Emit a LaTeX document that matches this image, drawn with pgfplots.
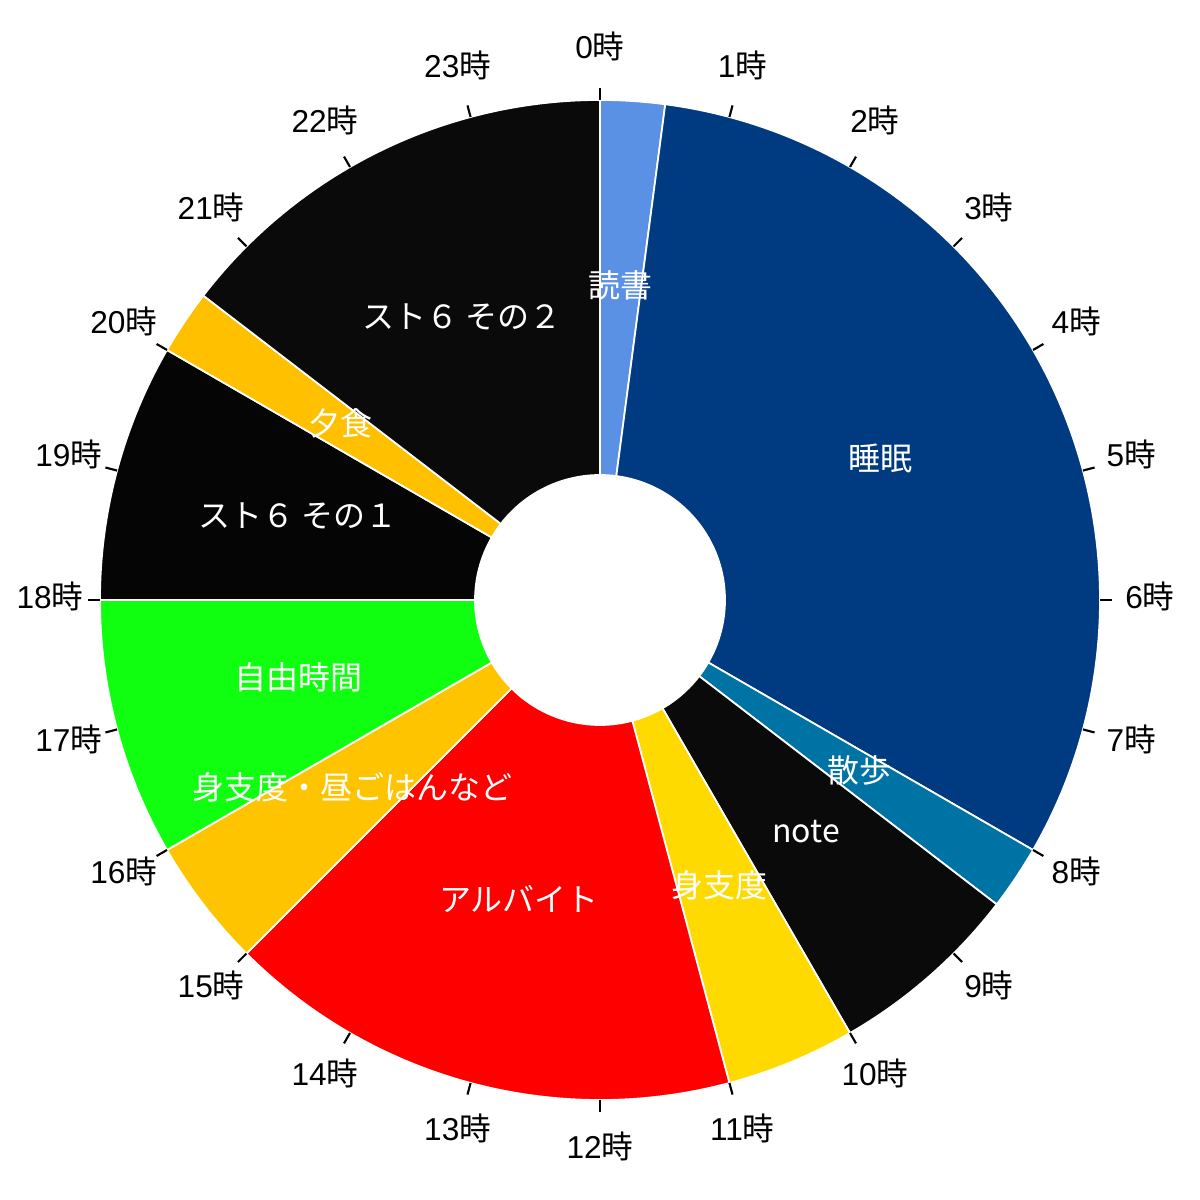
\documentclass[border=0pt]{standalone}
\usepackage{pgfplots}
\pgfplotsset{compat=1.18}
\usepackage{pgfplotstable}
\usepackage{fontspec}
\setmainfont{Liberation Sans}
\newfontfamily\cjk{Noto Sans CJK JP}

\definecolor{cread}{RGB}{91,145,228}
\definecolor{csleep}{RGB}{0,58,128}
\definecolor{cwalk}{RGB}{0,115,165}
\definecolor{cnote}{RGB}{10,10,10}
\definecolor{cprep}{RGB}{255,218,0}
\definecolor{cjob}{RGB}{255,0,0}
\definecolor{clunch}{RGB}{255,196,0}
\definecolor{cfree}{RGB}{16,255,16}
\definecolor{csfa}{RGB}{5,5,5}
\definecolor{cdin}{RGB}{255,192,0}
\definecolor{csfb}{RGB}{10,10,10}

% start/end in hours, 0 at top, clockwise
\pgfplotstableread[col sep=comma]{
start,end,col,label
0,0.5,cread,読書
0.5,8,csleep,睡眠
8,8.5,cwalk,散歩
8.5,10,cnote,note
10,11,cprep,身支度
11,15,cjob,アルバイト
15,16,clunch,身支度・昼ごはんなど
16,18,cfree,自由時間
18,20,csfa,スト６ その１
20,20.5,cdin,夕食
20.5,24,csfb,スト６ その２
}\schedule

\begin{document}
\begin{tikzpicture}
\begin{axis}[
  scale only axis,
  width=12cm, height=12cm,
  xmin=-600, xmax=600,
  ymin=-600, ymax=600,
  hide axis,
  clip=false,
]
\path (axis cs:-600,-600) rectangle (axis cs:600,600);

\pgfplotstablegetrowsof{\schedule}
\pgfmathtruncatemacro\nrows{\pgfplotsretval-1}
\pgfplotsinvokeforeach{0,...,\nrows}{
  \pgfplotstablegetelem{#1}{start}\of\schedule \let\hs\pgfplotsretval
  \pgfplotstablegetelem{#1}{end}\of\schedule \let\he\pgfplotsretval
  \pgfplotstablegetelem{#1}{col}\of\schedule \let\hc\pgfplotsretval
  \edef\wedgecmd{\noexpand\fill[\hc, draw=white, line width=0.5pt]
    (axis cs:{125*cos(90-15*\hs)},{125*sin(90-15*\hs)})
    -- (axis cs:{500*cos(90-15*\hs)},{500*sin(90-15*\hs)})
    arc[start angle={90-15*\hs}, end angle={90-15*\he}, radius=5cm]
    -- (axis cs:{125*cos(90-15*\he)},{125*sin(90-15*\he)})
    arc[start angle={90-15*\he}, end angle={90-15*\hs}, radius=1.25cm]
    -- cycle;}
  \wedgecmd
}

\addplot[draw=none, mark=none,
  nodes near coords,
  point meta=explicit symbolic,
  nodes near coords align={anchor=center},
  every node near coord/.append style={font=\cjk\fontsize{9.1}{10}\selectfont, text=white, inner sep=0pt, yshift=0.9pt},
] table[x expr={312.5*cos(90-7.5*(\thisrow{start}+\thisrow{end}))},
        y expr={312.5*sin(90-7.5*(\thisrow{start}+\thisrow{end}))},
        meta=label] {\schedule};

\pgfplotsinvokeforeach{0,...,23}{
  \draw[black, line width=0.6pt]
    (axis cs:{500*cos(90-15*#1)},{500*sin(90-15*#1)})
    -- (axis cs:{512*cos(90-15*#1)},{512*sin(90-15*#1)});
  \node[font=\fontsize{9}{10}\selectfont, inner sep=0pt, yshift=0.9pt]
    at (axis cs:{550*cos(90-15*#1)},{550*sin(90-15*#1)}) {#1{\cjk 時}};
}
\end{axis}
\end{tikzpicture}
\end{document}
